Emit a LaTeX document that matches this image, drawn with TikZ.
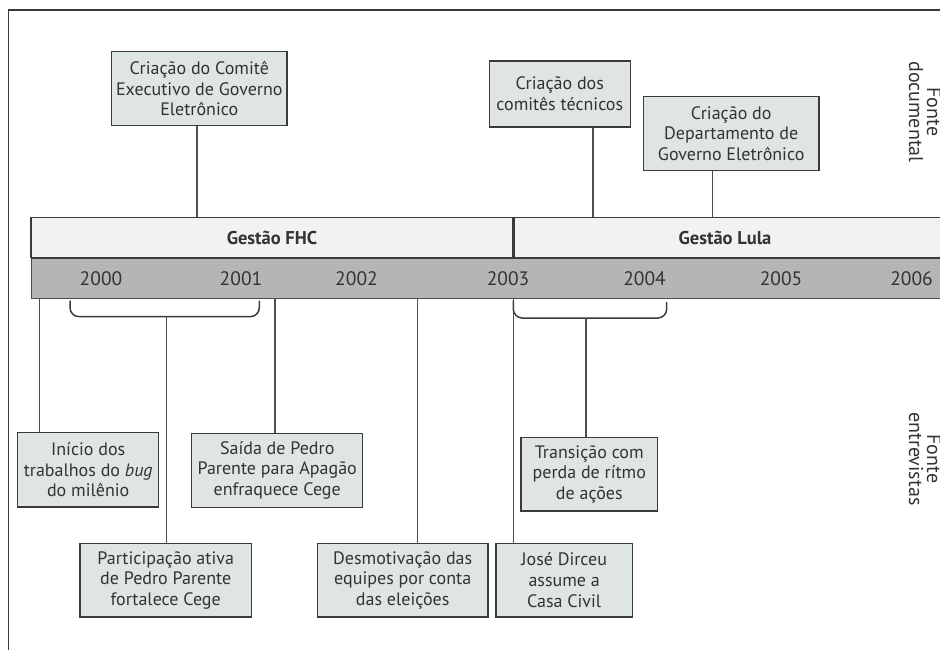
\documentclass[tikz,border=0pt]{standalone}
\usepackage{fontspec}
\setmainfont{PT Sans}
\definecolor{boxfill}{HTML}{DFE4E4}
\definecolor{gestfill}{HTML}{F2F2F2}
\definecolor{barfill}{HTML}{B5B5B5}
\definecolor{edge}{HTML}{3A3A3A}
\definecolor{conncol}{HTML}{4E4E4E}
\definecolor{txt}{HTML}{333333}
\begin{document}
\begin{tikzpicture}[x=1pt,y=-1pt,
  evbox/.style={draw=edge, fill=boxfill, line width=1.2pt, align=center, inner sep=0pt, text=txt,
    font=\fontsize{18}{20.7}\selectfont},
  gestbox/.style={draw=edge, fill=gestfill, line width=1.2pt, inner sep=0pt, text=txt,
    font=\fontsize{18.5}{20}\selectfont\bfseries},
  yearlbl/.style={text=txt, inner sep=0pt, font=\fontsize{19.5}{20}\selectfont},
  sidelbl/.style={text=txt, inner sep=0pt, align=center, rotate=-90, font=\fontsize{20}{18}\selectfont},
  conn/.style={draw=conncol, line width=1.6pt},
  brace/.style={draw=edge, line width=1.5pt, rounded corners=9pt}
]
\useasboundingbox (0,0) rectangle (940,650);
\clip (0,0) rectangle (940,650);
% outer frame
\draw[edge, line width=1.1pt] (945,10) -- (8.7,10) -- (8.7,655);

% management bands
\node[gestbox, minimum width=482pt, minimum height=40pt] (fhc) at (272,237.5) {Gestão FHC};
\node[gestbox, minimum width=432pt, minimum height=40pt, anchor=west] (lula) at (513,237.5) {};
\node[text=txt, inner sep=0pt, font=\fontsize{18.5}{20}\selectfont\bfseries] (lulalbl) at (725,237.5) {Gestão Lula};
\draw[edge, line width=2.2pt] (fhc.north east) -- (fhc.south east);

% year bar
\node[draw=conncol, fill=barfill, line width=1.2pt, minimum width=914pt, minimum height=39.5pt, inner sep=0pt, anchor=north west] (bar) at (31,258) {};
\draw[edge, line width=2.2pt] (bar.north west) -- (bar.north east);
\node[yearlbl] (y2000) at (101,279) {2000};
\node[yearlbl] (y2001) at (241,279) {2001};
\node[yearlbl] (y2002) at (356.5,279) {2002};
\node[yearlbl] (y2003) at (508,279) {2003};
\node[yearlbl] (y2004) at (644.5,279) {2004};
\node[yearlbl] (y2005) at (781,279) {2005};
\node[yearlbl] (y2006) at (911.5,279) {2006};

% top events (documentary source)
\node[evbox, minimum width=175.3pt, minimum height=74pt] (cte) at (199.3,88.7)
  {Criação do Comitê\\Executivo de Governo\\Eletrônico};
\node[evbox, minimum width=141pt, minimum height=66pt] (ctec) at (559.8,94)
  {Criação dos\\comitês técnicos};
\node[evbox, minimum width=175.7pt, minimum height=73.6pt] (dep) at (731.2,133.5)
  {Criação do\\Departamento de\\Governo Eletrônico};

\coordinate (t1) at (196.7,217.3);
\coordinate (t2) at (592.7,217.3);
\coordinate (t3) at (712.3,217.3);
\draw[conn] (cte.south -| t1) -- (t1);
\draw[conn] (ctec.south -| t2) -- (t2);
\draw[conn] (dep.south -| t3) -- (t3);

% bottom events (interviews)
\node[evbox, minimum width=141pt, minimum height=74.3pt] (ini) at (88.2,469.8)
  {Início dos\\trabalhos do \textit{bug}\\do milênio};
\node[evbox, minimum width=171pt, minimum height=74pt] (sai) at (277.2,470.3)
  {Saída de Pedro\\Parente para Apagão\\enfraquece Cege};
\node[evbox, minimum width=171.3pt, minimum height=73.7pt] (par) at (165.7,580.2)
  {Participação ativa\\de Pedro Parente\\fortalece Cege};
\node[evbox, minimum width=170.7pt, minimum height=73.7pt] (des) at (402.7,580.2)
  {Desmotivação das\\equipes por conta\\das eleições};
\node[evbox, minimum width=136.3pt, minimum height=73.7pt] (jos) at (564.2,580.2)
  {José Dirceu\\assume a\\Casa Civil};
\node[evbox, minimum width=136.7pt, minimum height=73.7pt] (tra) at (589.3,474.2)
  {Transição com\\perda de rítmo\\de ações};

\coordinate (b1) at (39.3,297.7);
\coordinate (b2) at (275,297.7);
\coordinate (b3) at (417.3,297.7);
\coordinate (b4) at (513.3,297.7);
\draw[conn] (b1) -- (ini.north -| b1);
\draw[conn] (b2) -- (sai.north -| b2);
\draw[conn] (b3) -- (des.north -| b3);
\draw[conn] (b4) -- (jos.north -| b4);

% braces
\coordinate (br1l) at (70,300.5);
\coordinate (br1r) at (259.3,300.5);
\coordinate (br1m) at (166.3,316.7);
\draw[brace] (br1l) -- (br1l |- br1m) -- (br1r |- br1m) -- (br1r);
\draw[conn] (br1m) -- (par.north -| br1m);

\coordinate (br2l) at (513.3,300.5);
\coordinate (br2r) at (666.7,302);
\coordinate (br2m) at (586,318);
\draw[brace] (br2l) -- (br2l |- br2m) -- (br2r |- br2m) -- (br2r);
\draw[conn] (br2m) -- (tra.north -| br2m);

% source labels
\node[sidelbl] (fdoc) at (925,112) {Fonte\\documental};
\node[sidelbl] (fent) at (925,459) {Fonte\\entrevistas};
\end{tikzpicture}
\end{document}
